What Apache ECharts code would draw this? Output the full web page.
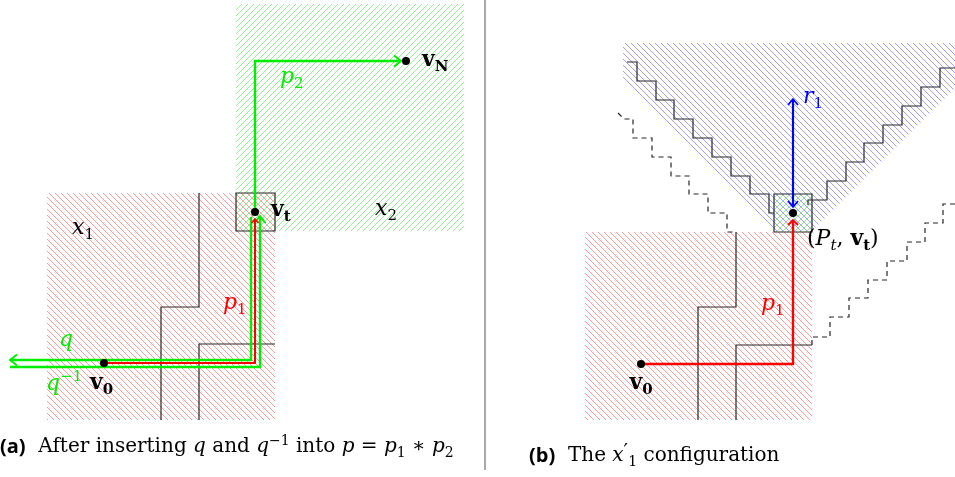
<!DOCTYPE html>
<html>
<head>
<meta charset="utf-8">
<script src="https://cdn.jsdelivr.net/npm/echarts@6/dist/echarts.min.js"></script>
<style>
  html, body { margin: 0; padding: 0; background: #fff; }
  #main { width: 955px; height: 477px; }
</style>
</head>
<body>
<div id="main"></div>
<script>
// hatched regions (pixel-like data space, y down)
const redRegionA = [[47,193],[275,193],[275,420],[47,420]];
const greenRegionA = [[236,4],[464,4],[464,231],[236,231]];
const boxA = [[236,193],[275,193],[275,231],[236,231]];
const blueRegionB = [[623,43],[955,43],[955,88],[812,231],[774,231],[623,80]];
const redRegionB = [[585,232],[812,232],[812,420],[585,420]];
const greenBoxB = [[774,194],[812,194],[812,232],[774,232]];

// walls and paths
const wallA1 = [[199,193],[199,307],[161,307],[161,420]];
const wallA2 = [[199,420],[199,344],[275,344]];
const pathQ = [[251,217],[251,360],[10,360]];
const pathQinv = [[10,367],[260,367],[260,216]];
const pathP1A = [[104,363],[255,363],[255,219]];
const pathP2 = [[255,212],[255,61],[401,61]];
const divider = [[485,0],[485,470]];
const wallB1 = [[698,420],[698,307],[736,307],[736,232]];
const wallB2 = [[736,420],[736,345],[812,345]];
const stairsLeft = [[627,62],[637,62],[637,81],[656,81],[656,100],[674,100],[674,119],[693,119],[693,138],[712,138],[712,157],[731,157],[731,176],[750,176],[750,194],[769,194],[769,213],[774,213]];
const stairsRight = [[808,205],[808,200],[827,200],[827,181],[846,181],[846,162],[864,162],[864,143],[883,143],[883,125],[902,125],[902,106],[921,106],[921,87],[940,87],[940,68],[955,68]];
const dashLeft = [[618,113],[624,119],[633,119],[633,138],[652,138],[652,157],[671,157],[671,176],[689,176],[689,194],[708,194],[708,213],[727,213],[727,232],[736,232]];
const dashRight = [[812,345],[812,337],[830,337],[830,317],[849,317],[849,298],[868,298],[868,280],[887,280],[887,261],[907,261],[907,242],[925,242],[925,223],[943,223],[943,204],[955,204]];
const pathR1 = [[793,99],[793,207]];
const pathP1B = [[641,364],[793,364],[793,220]];

// vertices
const dots = [[104,363],[255,212],[406,61],[641,364],[793,213]];

// labels: anchor points and texts
const labelPoints = [[72,228],[375,209],[271,210],[422,60],[280,77],[223,303],[66,340],[46,384],[90,383],[803,97],[807,239],[761,304],[641,383],[0,447],[529,456]];
const labelTexts = [
  '{i|x}{s|1}', '{i|x}{s|2}', '{b|v}{bs|t}', '{b|v}{bs|N}', '{i|p}{s|2}', '{i|p}{s|1}',
  '{i|q}', '{i|q}{sup|−1}', '{b|v}{bs|0}', '{i|r}{s|1}', '{n|(}{i|P}{si|t}{n|, }{b|v}{bs|t}{n|)}',
  '{i|p}{s|1}', '{b|v}{bs|0}',
  '{a|(a)}{n|  After inserting }{i|q}{n| and }{i|q}{sup|−1}{n| into }{i|p}{n| = }{i|p}{s|1}{n| ∗ }{i|p}{s|2}',
  '{a|(b)}{n|  The }{i|x}{pr|′}{s|1}{n| configuration}'
];

const ink = '#262626';
const GREEN = '#00ee00', RED = '#ff0000', BLUE = '#0000ff';
const labelColors = ['#000','#000','#000','#000',GREEN,RED,GREEN,GREEN,'#000',BLUE,'#000',RED,'#000','#000','#000'];
const labelAlign = ['left','left','left','left','left','left','center','left','left','left','left','left','center','left','left'];
const labelSize = [22,22,22,22,22,22,22,22,22,22,22,22,22,20,20];

const regions = [
  { pts: redRegionA, hatch: 'nw', color: '#ff8c8c' },
  { pts: greenRegionA, hatch: 'ne', color: '#8cec8c' },
  { pts: boxA, stroke: ink },
  { pts: blueRegionB, hatch: 'nw', color: '#9494ff' },
  { pts: redRegionB, hatch: 'nw', color: '#ff8c8c' },
  { pts: greenBoxB, hatch: 'ne', color: '#8cec8c', stroke: ink }
];

const paths = [
  { pts: divider, color: '#555', width: 1 },
  { pts: wallA1, color: ink, width: 1.2 },
  { pts: wallA2, color: ink, width: 1.2 },
  { pts: pathP2, color: GREEN, width: 2.4, head: [7, 5.5] },
  { pts: pathQ, color: GREEN, width: 2.4, head: [7, 5.5] },
  { pts: pathQinv, color: GREEN, width: 2.4, head: [7, 5.5] },
  { pts: pathP1A, color: RED, width: 2, head: [4, 3.5] },
  { pts: wallB1, color: ink, width: 1.2 },
  { pts: wallB2, color: ink, width: 1.2 },
  { pts: stairsLeft, color: ink, width: 1.2 },
  { pts: stairsRight, color: ink, width: 1.2 },
  { pts: dashLeft, color: ink, width: 1.2, dash: [5, 4] },
  { pts: dashRight, color: ink, width: 1.2, dash: [5, 4] },
  { pts: pathR1, color: BLUE, width: 2.2, head: [6, 5], both: true },
  { pts: pathP1B, color: RED, width: 2.4, head: [5, 5] }
];

// diagonal hatch lines clipped to a convex polygon (pixel coords)
function hatchLines(poly, dir, step) {
  const key = p => dir === 'nw' ? p[0] - p[1] : p[0] + p[1];
  const ks = poly.map(key);
  const kmin = Math.min(...ks), kmax = Math.max(...ks);
  const out = [];
  for (let k = Math.ceil(kmin / step) * step; k <= kmax; k += step) {
    const hits = [];
    for (let i = 0; i < poly.length; i++) {
      const a = poly[i], b = poly[(i + 1) % poly.length];
      const ka = key(a) - k, kb = key(b) - k;
      if ((ka <= 0 && kb >= 0) || (ka >= 0 && kb <= 0)) {
        if (ka === kb) { hits.push(a, b); continue; }
        const t = ka / (ka - kb);
        hits.push([a[0] + t * (b[0] - a[0]), a[1] + t * (b[1] - a[1])]);
      }
    }
    if (hits.length < 2) continue;
    hits.sort((p, q) => p[0] - q[0]);
    out.push([hits[0], hits[hits.length - 1]]);
  }
  return out;
}

function arrowHead(tip, from, len, half, color, width) {
  let dx = tip[0] - from[0], dy = tip[1] - from[1];
  const l = Math.hypot(dx, dy) || 1;
  dx /= l; dy /= l;
  const bx = tip[0] - dx * len, by = tip[1] - dy * len;
  return {
    type: 'polyline',
    shape: { points: [[bx - dy * half, by + dx * half], tip, [bx + dy * half, by - dx * half]] },
    style: { stroke: color, lineWidth: width * 0.8, fill: null }
  };
}

function renderRegion(params, api) {
  const r = regions[params.dataIndex];
  const pts = r.pts.map(p => api.coord(p));
  const children = [];
  if (r.hatch) {
    hatchLines(pts, r.hatch, 6).forEach(seg => {
      children.push({
        type: 'line',
        shape: { x1: seg[0][0], y1: seg[0][1], x2: seg[1][0], y2: seg[1][1] },
        style: { stroke: r.color, lineWidth: 0.9 }
      });
    });
  }
  if (r.stroke) {
    children.push({ type: 'polygon', shape: { points: pts }, style: { fill: null, stroke: r.stroke, lineWidth: 1.2 } });
  }
  return { type: 'group', children };
}

function renderPath(params, api) {
  const p = paths[params.dataIndex];
  const pts = p.pts.map(q => api.coord(q));
  const children = [{
    type: 'polyline',
    shape: { points: pts },
    style: { stroke: p.color, lineWidth: p.width, fill: null, lineDash: p.dash || null, lineJoin: 'miter' }
  }];
  if (p.head) {
    const n = pts.length;
    children.push(arrowHead(pts[n - 1], pts[n - 2], p.head[0], p.head[1], p.color, p.width));
    if (p.both) children.push(arrowHead(pts[0], pts[1], p.head[0], p.head[1], p.color, p.width));
  }
  return { type: 'group', children };
}

const serif = '"DejaVu Serif", "Liberation Serif", serif';
function richFor(size, color) {
  const sub = Math.round(size * 0.7);
  const lh = Math.round(size * 1.3);
  const base = { fontFamily: serif, fontSize: size, lineHeight: lh, fill: color };
  const small = { fontFamily: serif, fontSize: sub, lineHeight: sub, fill: color };
  return {
    n: base,
    i: Object.assign({}, base, { fontStyle: 'italic' }),
    b: Object.assign({}, base, { fontWeight: 'bold' }),
    s: Object.assign({}, small, { verticalAlign: 'bottom' }),
    si: Object.assign({}, small, { verticalAlign: 'bottom', fontStyle: 'italic' }),
    bs: Object.assign({}, small, { verticalAlign: 'bottom', fontWeight: 'bold' }),
    sup: Object.assign({}, small, { verticalAlign: 'top' }),
    pr: { fontFamily: serif, fontSize: size, lineHeight: size, verticalAlign: 'top', fill: color },
    a: { fontFamily: '"Open Sans", "DejaVu Sans", sans-serif', fontWeight: 'bold', fontSize: size, lineHeight: lh, fill: '#000' }
  };
}

function renderLabel(params, api) {
  const i = params.dataIndex;
  const pt = api.coord(labelPoints[i]);
  return {
    type: 'text',
    x: pt[0], y: pt[1],
    style: {
      text: labelTexts[i],
      fill: labelColors[i],
      align: labelAlign[i],
      verticalAlign: 'middle',
      fontFamily: serif,
      fontSize: labelSize[i],
      rich: richFor(labelSize[i], labelColors[i])
    }
  };
}

const chart = echarts.init(document.getElementById('main'));
chart.setOption({
  animation: false,
  backgroundColor: '#fff',
  grid: { left: 0, right: 0, top: 0, bottom: 0 },
  xAxis: { type: 'value', min: 0, max: 955, show: false },
  yAxis: { type: 'value', min: 0, max: 477, inverse: true, show: false },
  series: [
    { type: 'custom', renderItem: renderRegion, data: regions.map(r => r.pts[0]), silent: true, z: 1 },
    { type: 'custom', renderItem: renderPath, data: paths.map(p => p.pts[0]), silent: true, z: 2 },
    { type: 'scatter', data: dots, symbolSize: 8, itemStyle: { color: '#000', opacity: 1 }, silent: true, z: 3 },
    { type: 'custom', renderItem: renderLabel, data: labelPoints, silent: true, z: 4 }
  ]
});
</script>
</body>
</html>
